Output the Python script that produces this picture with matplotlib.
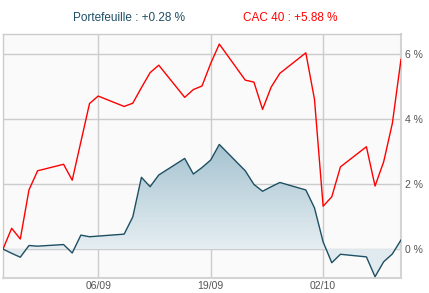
import matplotlib
matplotlib.use('Agg')
import matplotlib.pyplot as plt
import matplotlib.dates as mdates
import numpy as np
from datetime import date
from matplotlib.path import Path
from matplotlib.patches import PathPatch
from matplotlib.colors import LinearSegmentedColormap

# trading days (2013)
dates = ['2013-08-26', '2013-08-27', '2013-08-28', '2013-08-29', '2013-08-30',
         '2013-09-02', '2013-09-03', '2013-09-04', '2013-09-05', '2013-09-06',
         '2013-09-09', '2013-09-10', '2013-09-11', '2013-09-12', '2013-09-13',
         '2013-09-16', '2013-09-17', '2013-09-18', '2013-09-19', '2013-09-20',
         '2013-09-23', '2013-09-24', '2013-09-25', '2013-09-26', '2013-09-27',
         '2013-09-30', '2013-10-01', '2013-10-02', '2013-10-03', '2013-10-04',
         '2013-10-07', '2013-10-08', '2013-10-09', '2013-10-10', '2013-10-11']

portefeuille = [0.0, -0.13, -0.25, 0.11, 0.09,
                0.14, -0.12, 0.43, 0.38, 0.40,
                0.46, 0.99, 2.21, 1.92, 2.28,
                2.79, 2.31, 2.51, 2.74, 3.22,
                2.41, 1.99, 1.78, 1.92, 2.05,
                1.82, 1.27, 0.22, -0.42, -0.16,
                -0.24, -0.85, -0.39, -0.15, 0.28]

cac40 = [0.0, 0.64, 0.31, 1.82, 2.41,
         2.61, 2.12, 3.30, 4.48, 4.71,
         4.39, 4.49, 4.97, 5.43, 5.66,
         4.67, 4.91, 5.02, 5.71, 6.31,
         5.20, 5.14, 4.30, 4.99, 5.41,
         6.04, 4.61, 1.32, 1.61, 2.53,
         3.15, 1.94, 2.69, 3.87, 5.84]

tick_dates = ['2013-09-06', '2013-09-19', '2013-10-02']
tick_labels = ['06/09', '19/09', '02/10']
y_ticks = [0, 2, 4, 6]

x = mdates.date2num([date.fromisoformat(d) for d in dates])
p = np.array(portefeuille)
c = np.array(cac40)

fig = plt.figure(figsize=(4.29, 2.93), dpi=100)
ax = fig.add_axes([3 / 429, 15 / 293, 398 / 429, 244 / 293])
ax.set_facecolor('#fafafa')

ymin, ymax = -0.89, 6.62
ax.set_xlim(x[0], x[-1])
ax.set_ylim(ymin, ymax)

# gradient fill between portfolio line and zero
verts = [(x[0], 0)] + list(zip(x, p)) + [(x[-1], 0), (x[0], 0)]
clip = PathPatch(Path(verts), facecolor='none', edgecolor='none')
ax.add_patch(clip)
grad = np.linspace(0, 1, 256).reshape(-1, 1)
cmap = LinearSegmentedColormap.from_list('g', ['#e6eef2', '#a5c3d0'])
img = ax.imshow(grad, cmap=cmap, aspect='auto', origin='lower',
                extent=[x[0], x[-1], 0, p.max()], zorder=1)
img.set_clip_path(clip)
ax.fill_between(x, p, 0, where=p < 0, interpolate=True, color='#e1eaee',
                linewidth=0, zorder=1)

ax.grid(True, color='#cccccc', linewidth=1, zorder=0)
ax.set_axisbelow(True)

ax.plot(x, c, color='#ff0000', linewidth=1, zorder=3)
ax.plot(x, p, color='#1e4f63', linewidth=1, zorder=3)

ax.set_xticks(mdates.date2num([date.fromisoformat(d) for d in tick_dates]))
ax.set_xticklabels(tick_labels)
ax.set_yticks(y_ticks)
ax.set_yticklabels([f'{v} %' for v in y_ticks])
ax.yaxis.tick_right()
ax.tick_params(axis='both', length=0, labelsize=7.5, labelcolor='#555555')
ax.tick_params(axis='x', pad=2)
ax.tick_params(axis='y', pad=3)
for lab in ax.get_xticklabels() + ax.get_yticklabels():
    lab.set_family('Liberation Sans')

for side in ['left', 'top']:
    ax.spines[side].set_color('#cccccc')
    ax.spines[side].set_linewidth(1)
for side in ['right', 'bottom']:
    ax.spines[side].set_color('#d4d4d4')
    ax.spines[side].set_linewidth(1.5)

fig.text(129 / 429, 1 - 18 / 293, 'Portefeuille : +0.28 %', color='#1e4f63',
         fontsize=8.5, family='Liberation Sans', ha='center', va='center')
fig.text(290 / 429, 1 - 18 / 293, 'CAC 40 : +5.88 %', color='#ff0000',
         fontsize=8.5, family='Liberation Sans', ha='center', va='center')

fig.savefig('out.png', dpi=100)
